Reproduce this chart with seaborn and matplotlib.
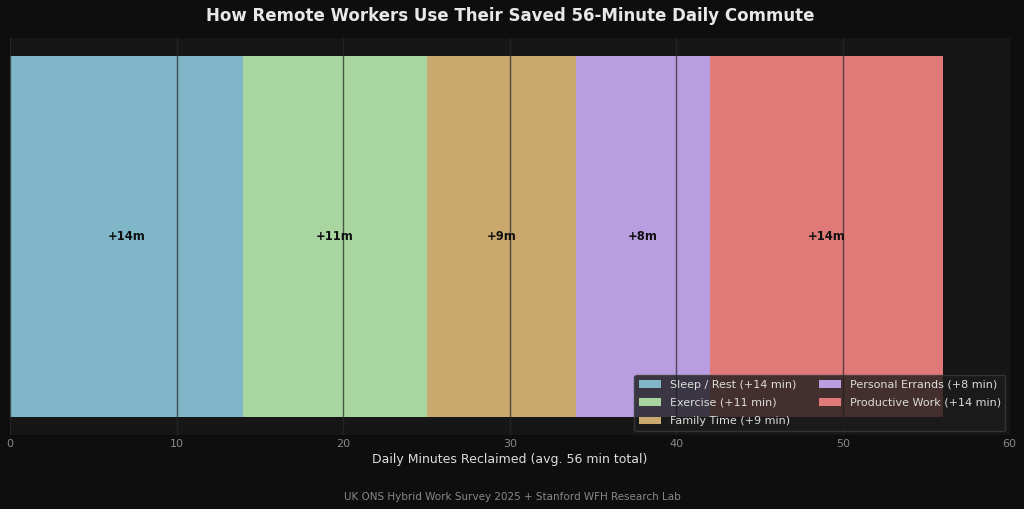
import numpy as np
import pandas as pd
import seaborn as sns
import matplotlib.pyplot as plt
from matplotlib.patches import Patch

# data
categories = ['Sleep / Rest', 'Exercise', 'Family Time', 'Personal Errands', 'Productive Work']
minutes = [14, 11, 9, 8, 14]
colors = ['#7fb7c9', '#a8d5a0', '#c9a96e', '#b89de0', '#e07a78']

sns.set_theme(style='dark')
plt.rcParams['font.family'] = ['DejaVu Sans']

fig, ax = plt.subplots(figsize=(10.24, 5.09), dpi=100)
fig.patch.set_facecolor('#0e0e0e')
ax.set_facecolor('#161616')

cum = np.cumsum(minutes)
df = pd.DataFrame({'row': ['all'] * len(categories), 'cum': cum, 'cat': categories})

# stacked bar: draw cumulative totals from the longest to the shortest
for i in range(len(categories) - 1, -1, -1):
    sns.barplot(data=df.iloc[[i]], x='cum', y='row', orient='h', color=colors[i],
                width=0.91, saturation=1, linewidth=0, ax=ax)

for i, v in enumerate(minutes):
    ax.text(cum[i] - v / 2, 0, f'+{v}m', ha='center', va='center',
            fontsize=8.3, fontweight='bold', color='#111111')

ax.set_xlim(0, 60)
ax.set_axisbelow(False)
ax.grid(axis='x', color='#2a2a2a', alpha=0.75, linewidth=1)
ax.grid(axis='y', visible=False)
ax.set_yticks([])
ax.set_ylabel('')
for s in ax.spines.values():
    s.set_visible(False)
ax.tick_params(axis='x', colors='#888888', labelsize=8, length=0, pad=3)
ax.set_xlabel('Daily Minutes Reclaimed (avg. 56 min total)', color='#dddddd', fontsize=9, labelpad=2.5)
ax.set_title('How Remote Workers Use Their Saved 56-Minute Daily Commute',
             color='#e8e8e8', fontsize=12, fontweight='bold', pad=12.5)

handles = [Patch(facecolor=colors[i], edgecolor='none', label=f'{categories[i]} (+{minutes[i]} min)')
           for i in range(len(categories))]
leg = ax.legend(handles=handles, loc='lower right', ncol=2, fontsize=8, frameon=True,
                facecolor='#1c1c1c', edgecolor='#3a3a3a', framealpha=0.8,
                labelcolor='#dddddd', handlelength=2.0, columnspacing=2.0,
                labelspacing=0.75, borderaxespad=0.4)

fig.text(0.5, 0.018, 'UK ONS Hybrid Work Survey 2025 + Stanford WFH Research Lab',
         ha='center', color='#888888', fontsize=7.5)

plt.subplots_adjust(left=0.0098, right=0.986, top=0.925, bottom=0.145)
plt.savefig('out.png', facecolor=fig.get_facecolor())
